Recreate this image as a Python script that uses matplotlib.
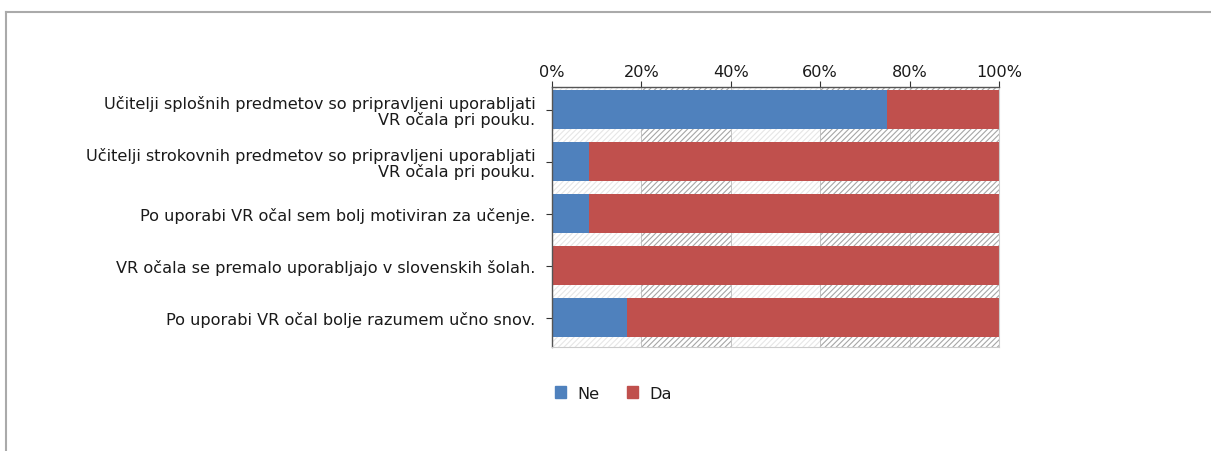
import numpy as np
import matplotlib.pyplot as plt
from matplotlib.lines import Line2D

categories = [
    "Učitelji splošnih predmetov so pripravljeni uporabljati\nVR očala pri pouku.",
    "Učitelji strokovnih predmetov so pripravljeni uporabljati\nVR očala pri pouku.",
    "Po uporabi VR očal sem bolj motiviran za učenje.",
    "VR očala se premalo uporabljajo v slovenskih šolah.",
    "Po uporabi VR očal bolje razumem učno snov.",
]
ne_pct = [75.0, 8.3, 8.3, 0.0, 16.7]
da_pct = [25.0, 91.7, 91.7, 100.0, 83.3]
series_names = ["Ne", "Da"]
xticks = [0, 20, 40, 60, 80, 100]

blue = "#4f81bd"
red = "#c0504d"

plt.rcParams["font.family"] = ["DejaVu Sans"]
plt.rcParams["hatch.linewidth"] = 0.8

fig = plt.figure(figsize=(12.11, 4.52), dpi=100)
ax = fig.add_axes([0.4558, 0.230, 0.3691, 0.575])

y = np.arange(len(categories))

# patterned background between bars (Excel-style plot area fill)
bands = [(0, 20, "#e6e6e6"), (20, 40, "#a6a6a6"), (40, 60, "#e6e6e6"),
         (60, 80, "#a6a6a6"), (80, 100, "#a6a6a6")]
for x0, x1, hc in bands:
    ax.axvspan(x0, x1, facecolor="white", edgecolor=hc, hatch="//////",
               linewidth=0, zorder=0)
for x0 in xticks[1:-1]:
    ax.axvline(x0, color="#bbbbbb", lw=0.6, zorder=0.5)

ax.barh(y, ne_pct, height=0.75, color=blue, label=series_names[0], zorder=2)
ax.barh(y, da_pct, left=ne_pct, height=0.75, color=red, label=series_names[1], zorder=2)

ax.set_xlim(0, 100)
ax.set_ylim(4.567, -0.433)
ax.set_yticks(y)
ax.set_yticklabels(categories, fontsize=11.6, color="#1a1a1a", linespacing=1.0)
ax.set_xticks(xticks)
ax.set_xticklabels([f"{t}%" for t in xticks], fontsize=11.6, color="#1a1a1a")
ax.xaxis.tick_top()
ax.tick_params(axis="x", direction="out", length=4, width=0.8, colors="#333333", pad=2)
ax.tick_params(axis="y", direction="out", length=4, width=0.8, colors="#333333", pad=8)
for lab in ax.get_yticklabels():
    lab.set_multialignment("right")
for lab in ax.get_xticklabels() + ax.get_yticklabels():
    lab.set_color("#1a1a1a")

for s in ["top", "left"]:
    ax.spines[s].set_color("#555555")
    ax.spines[s].set_linewidth(1.0)
for s in ["bottom", "right"]:
    ax.spines[s].set_color("#cccccc")
    ax.spines[s].set_linewidth(0.8)

handles = [plt.Rectangle((0, 0), 1, 1, color=blue), plt.Rectangle((0, 0), 1, 1, color=red)]
fig.legend(handles, series_names, loc="center", bbox_to_anchor=(0.5066, 0.128),
           ncol=2, frameon=False, fontsize=11.6, handlelength=0.7, handleheight=0.7,
           columnspacing=1.7, handletextpad=0.7, labelcolor="#1a1a1a")

# outer chart border (top and left edges visible)
fig.add_artist(Line2D([6 / 1211, 1], [1 - 13 / 452, 1 - 13 / 452],
                      transform=fig.transFigure, color="#aaaaaa", lw=1.5))
fig.add_artist(Line2D([6 / 1211, 6 / 1211], [0, 1 - 13 / 452],
                      transform=fig.transFigure, color="#aaaaaa", lw=1.5))

fig.savefig("out.png", dpi=100)
